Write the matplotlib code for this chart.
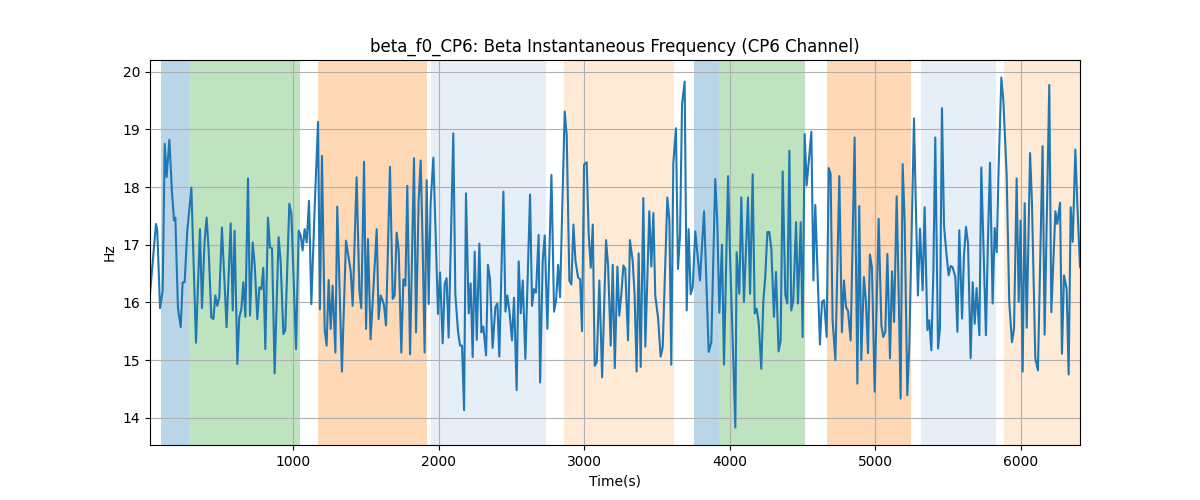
import matplotlib
matplotlib.use("Agg")
import matplotlib.pyplot as plt

# sample times (s) and beta instantaneous frequency (Hz)
times = [
    18, 59, 68, 87, 105, 119, 132, 151, 169, 183, 192, 210, 229, 242, 256, 274, 302, 334, 361, 375,
    393, 407, 421, 439, 453, 467, 480, 494, 512, 544, 572, 586, 599, 618, 631, 645, 659, 673, 691, 705,
    723, 737, 755, 769, 783, 796, 810, 828, 842, 856, 874, 901, 915, 934, 947, 975, 989, 1021, 1039, 1053,
    1066, 1080, 1094, 1110, 1126, 1149, 1172, 1185, 1199, 1218, 1231, 1245, 1259, 1272, 1291, 1304, 1336, 1364, 1382, 1396,
    1410, 1437, 1456, 1469, 1488, 1502, 1515, 1533, 1575, 1588, 1602, 1616, 1625, 1639, 1666, 1685, 1698, 1712, 1726, 1744,
    1758, 1772, 1785, 1804, 1831, 1845, 1863, 1877, 1891, 1904, 1918, 1932, 1945, 1964, 1982, 1996, 2010, 2028, 2042, 2055,
    2069, 2101, 2115, 2133, 2147, 2161, 2175, 2188, 2207, 2220, 2234, 2248, 2262, 2280, 2294, 2307, 2326, 2339, 2353, 2371,
    2390, 2404, 2417, 2445, 2459, 2472, 2486, 2504, 2518, 2536, 2550, 2564, 2578, 2596, 2628, 2642, 2655, 2669, 2687, 2697,
    2715, 2729, 2747, 2775, 2793, 2807, 2821, 2834, 2866, 2880, 2898, 2912, 2926, 2940, 2958, 2972, 2985, 2999, 3017, 3031,
    3045, 3059, 3072, 3086, 3104, 3123, 3150, 3164, 3182, 3196, 3210, 3228, 3241, 3255, 3269, 3282, 3301, 3314, 3333, 3346,
    3360, 3374, 3388, 3406, 3420, 3447, 3461, 3475, 3488, 3507, 3525, 3539, 3571, 3585, 3598, 3612, 3630, 3644, 3658, 3672,
    3690, 3704, 3717, 3731, 3745, 3763, 3795, 3823, 3855, 3873, 3900, 3914, 3928, 3946, 3960, 3988, 4001, 4015, 4038, 4047,
    4065, 4079, 4097, 4125, 4139, 4157, 4171, 4184, 4198, 4216, 4230, 4244, 4258, 4271, 4285, 4303, 4317, 4335, 4349, 4363,
    4381, 4395, 4409, 4422, 4436, 4455, 4468, 4487, 4500, 4514, 4528, 4560, 4574, 4587, 4619, 4633, 4647, 4665, 4679, 4692,
    4706, 4725, 4752, 4770, 4784, 4798, 4812, 4830, 4857, 4876, 4889, 4903, 4921, 4935, 4949, 4962, 4976, 4995, 5022, 5041,
    5054, 5068, 5082, 5100, 5114, 5128, 5146, 5160, 5173, 5187, 5201, 5219, 5233, 5247, 5265, 5279, 5292, 5306, 5324, 5338,
    5357, 5370, 5384, 5398, 5411, 5430, 5443, 5457, 5471, 5489, 5503, 5517, 5530, 5549, 5563, 5576, 5595, 5608, 5622, 5636,
    5654, 5668, 5682, 5695, 5714, 5727, 5746, 5759, 5773, 5787, 5805, 5819, 5833, 5846, 5865, 5878, 5901, 5919, 5938, 5952,
    5970, 5984, 5997, 6011, 6025, 6039, 6062, 6075, 6098, 6116, 6148, 6162, 6194, 6208, 6236, 6249, 6268, 6281, 6295, 6313,
    6327, 6341, 6355, 6373, 6387, 6405,
]
freq_hz = [
    16.15, 17.36, 17.25, 15.90, 16.20, 18.75, 18.17, 18.82, 17.90, 17.42, 17.47, 15.90, 15.57, 16.35, 16.35, 17.24, 17.99, 15.30, 17.27, 15.90,
    17.07, 17.47, 16.90, 15.74, 15.71, 16.12, 15.94, 16.09, 17.30, 15.57, 17.37, 15.86, 17.24, 14.93, 15.74, 15.88, 16.35, 15.75, 18.15, 15.77,
    17.04, 16.66, 15.71, 16.26, 16.23, 16.60, 15.19, 17.47, 16.95, 16.94, 14.77, 17.13, 16.72, 15.45, 15.52, 17.71, 17.53, 15.19, 17.24, 17.16,
    16.90, 17.27, 17.04, 17.76, 15.97, 17.65, 19.13, 15.88, 18.54, 15.51, 15.25, 16.39, 15.54, 16.29, 15.13, 17.66, 14.80, 17.07, 16.78, 16.55,
    15.94, 18.17, 16.20, 15.90, 18.44, 15.54, 17.10, 15.36, 17.27, 15.71, 16.12, 16.03, 15.95, 15.60, 18.35, 16.06, 16.12, 17.21, 16.90, 15.13,
    16.40, 16.29, 18.02, 15.10, 18.50, 15.48, 17.76, 18.46, 16.95, 15.13, 18.12, 15.97, 17.71, 18.51, 16.95, 15.80, 16.52, 15.29, 16.32, 16.42,
    15.39, 18.93, 16.14, 15.51, 15.25, 15.25, 14.13, 17.89, 15.81, 16.33, 15.05, 16.88, 15.35, 17.02, 15.48, 15.58, 15.08, 16.65, 16.40, 15.21,
    15.92, 15.98, 15.06, 17.92, 15.84, 16.12, 15.86, 15.34, 16.08, 14.48, 16.71, 15.81, 16.38, 15.02, 17.87, 15.94, 16.23, 16.17, 17.17, 14.61,
    16.72, 17.16, 15.54, 18.21, 15.84, 16.04, 16.65, 16.09, 19.31, 18.89, 16.38, 16.31, 17.35, 16.72, 16.43, 16.40, 15.50, 18.39, 18.43, 17.18,
    16.60, 17.35, 14.90, 14.96, 16.38, 14.70, 17.08, 16.64, 15.25, 16.65, 14.86, 16.62, 15.77, 16.14, 16.64, 16.58, 15.34, 17.08, 16.72, 16.14,
    14.80, 16.85, 14.88, 17.81, 15.23, 17.58, 16.62, 17.55, 16.12, 15.74, 15.06, 15.22, 17.82, 17.42, 14.92, 18.41, 19.02, 16.58, 17.16, 19.44,
    19.83, 15.86, 17.27, 16.14, 16.26, 17.23, 16.38, 17.58, 15.14, 15.31, 18.14, 17.39, 15.82, 17.00, 14.92, 18.19, 16.87, 15.72, 13.83, 16.87,
    16.15, 17.82, 16.01, 17.82, 16.15, 18.22, 15.81, 15.89, 15.66, 14.85, 16.01, 16.47, 17.22, 17.22, 16.93, 15.75, 16.53, 15.15, 15.34, 18.27,
    16.13, 15.98, 18.63, 15.86, 16.04, 17.39, 15.98, 17.39, 15.40, 18.92, 18.03, 18.96, 16.38, 17.69, 15.27, 16.01, 16.04, 15.40, 18.33, 18.23,
    15.69, 15.00, 18.19, 15.48, 16.38, 15.92, 15.85, 15.34, 18.86, 14.59, 17.67, 15.00, 16.44, 16.01, 15.12, 16.83, 16.61, 14.45, 17.45, 15.60,
    15.40, 15.49, 16.84, 15.03, 16.54, 15.66, 17.84, 16.12, 14.33, 18.40, 17.39, 14.39, 15.26, 16.99, 19.19, 17.51, 16.12, 17.28, 16.21, 17.65,
    15.52, 15.69, 15.17, 16.53, 18.86, 15.20, 15.55, 19.37, 17.33, 16.81, 16.47, 16.63, 16.61, 16.44, 15.49, 17.25, 15.72, 16.81, 17.31, 17.02,
    15.03, 16.35, 15.63, 16.25, 15.43, 18.34, 16.58, 15.43, 17.10, 18.42, 15.98, 17.29, 16.87, 18.32, 19.90, 19.53, 18.23, 16.01, 15.31, 15.55,
    18.15, 16.01, 17.42, 14.80, 17.72, 15.56, 18.59, 17.74, 15.03, 14.82, 18.71, 15.44, 19.77, 15.83, 17.58, 17.36, 17.73, 15.11, 16.47, 16.24,
    14.75, 17.65, 17.05, 18.65, 17.68, 16.61,
]

# shaded intervals (s)
span_start = [95, 285, 1175, 1945, 2860, 3755, 3925, 4670, 5310, 5885]
span_end = [285, 1045, 1920, 2735, 3615, 3925, 4515, 5245, 5825, 6420]
span_color = ["#1f77b4", "#2ca02c", "#ff7f0e", "#aec7e8", "#ffbb78",
              "#1f77b4", "#2ca02c", "#ff7f0e", "#aec7e8", "#ffbb78"]

fig, ax = plt.subplots(figsize=(12, 5), dpi=100)

for s, e, c in zip(span_start, span_end, span_color):
    ax.axvspan(s, e, color=c, alpha=0.3, lw=0)

ax.plot(times, freq_hz, color="#1f77b4", lw=1.5)
ax.set_xlim(times[0], times[-1])
ax.set_title("beta_f0_CP6: Beta Instantaneous Frequency (CP6 Channel)")
ax.set_xlabel("Time(s)")
ax.set_ylabel("Hz")
ax.grid(True)

plt.savefig("out.png")
